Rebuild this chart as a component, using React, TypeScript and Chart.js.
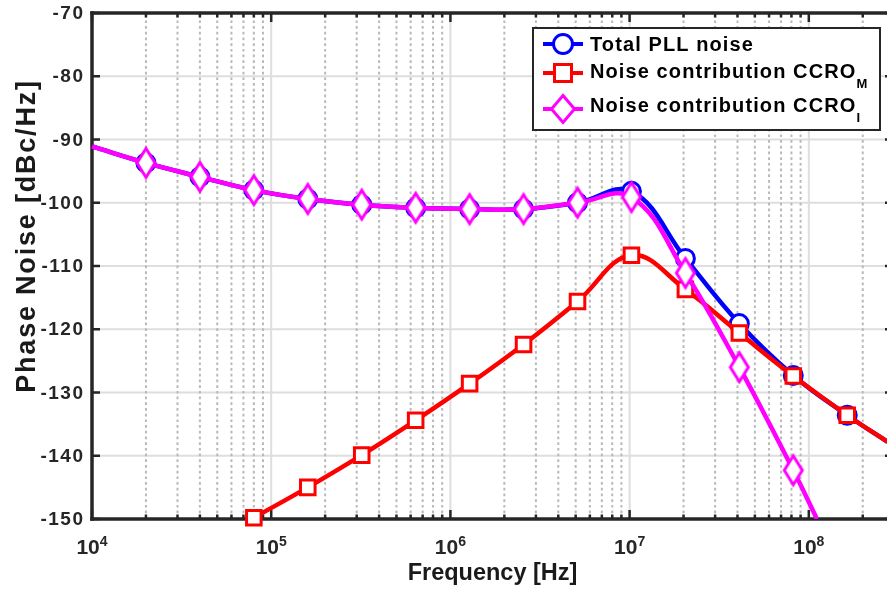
import React, { useEffect, useRef } from "react";
import { Chart, registerables } from "chart.js";

Chart.register(...registerables);

const FONT = "'Liberation Sans', Arial, Helvetica, sans-serif";
const AXIS_COLOR = "#262626";
const CANVAS_W = 900;
const CANVAS_H = 593;

// Offset frequencies (Hz) and phase noise (dBc/Hz) of the three curves
const freqTotal = [1e4, 2e4, 4e4, 8e4, 1.6e5, 3.2e5, 6.4e5, 1.28e6, 2.56e6, 5.12e6, 1.024e7, 2.048e7, 4.096e7, 8.192e7, 1.6384e8, 2.75e8];
const totalPll = [-91.1, -93.7, -95.9, -98.0, -99.4, -100.3, -100.8, -101.0, -101.0, -100.0, -98.2, -108.8, -119.1, -127.3, -133.6, -137.8];

const freqCcroM = [8e4, 1.6e5, 3.2e5, 6.4e5, 1.28e6, 2.56e6, 5.12e6, 1.024e7, 2.048e7, 4.096e7, 8.192e7, 1.6384e8, 2.75e8];
const ccroM = [-149.8, -145.0, -139.9, -134.4, -128.6, -122.4, -115.6, -108.3, -113.7, -120.6, -127.4, -133.6, -137.8];

const freqCcroI = [1e4, 2e4, 4e4, 8e4, 1.6e5, 3.2e5, 6.4e5, 1.28e6, 2.56e6, 5.12e6, 1.024e7, 2.048e7, 4.096e7, 8.192e7, 1.11e8];
const ccroI = [-91.1, -93.7, -95.9, -98.0, -99.4, -100.3, -100.8, -101.0, -101.0, -100.0, -99.1, -111.1, -126.0, -142.3, -150.0];

// Axes
const yTicks = [-150, -140, -130, -120, -110, -100, -90, -80, -70];
const xDecades = [4, 5, 6, 7, 8];
const X_MIN = 1e4;
const X_MAX = 2.95e8;
const Y_MIN = -150;
const Y_MAX = -70;

const xTitle = "Frequency [Hz]";
const yTitle = "Phase Noise [dBc/Hz]";

// Legend entries: name + subscript
const legendNames = ["Total PLL noise", "Noise contribution CCRO", "Noise contribution CCRO"];
const legendSubs = ["", "M", "I"];
const seriesColors = ["#0000ff", "#ff0000", "#ff00ff"];
const seriesMarkers = ["circle", "rect", "diamond"];

function pts(xs: number[], ys: number[]) {
  return xs.map((x, i) => ({ x, y: ys[i] }));
}

// marker radius per point; 0 hides the marker on the curve end points
function radii(n: number, r: number, hideFirst: boolean, hideLast: boolean) {
  return Array.from({ length: n }, (_, i) =>
    (hideFirst && i === 0) || (hideLast && i === n - 1) ? 0 : r
  );
}

function seg(ctx: CanvasRenderingContext2D, x1: number, y1: number, x2: number, y2: number) {
  ctx.beginPath();
  ctx.moveTo(x1, y1);
  ctx.lineTo(x2, y2);
  ctx.stroke();
}

function diamondPath(ctx: CanvasRenderingContext2D, x: number, y: number, hw: number, hh: number) {
  ctx.beginPath();
  ctx.moveTo(x, y - hh);
  ctx.lineTo(x + hw, y);
  ctx.lineTo(x, y + hh);
  ctx.lineTo(x - hw, y);
  ctx.closePath();
}

// tall diamond marker used as a point style image
function makeDiamond(color: string, hw: number, hh: number, lw: number) {
  const c = document.createElement("canvas");
  c.width = Math.ceil(2 * hw + 2 * lw + 2);
  c.height = Math.ceil(2 * hh + 2 * lw + 2);
  const g = c.getContext("2d")!;
  diamondPath(g, c.width / 2, c.height / 2, hw, hh);
  g.fillStyle = "#ffffff";
  g.fill();
  g.lineWidth = lw;
  g.strokeStyle = color;
  g.lineJoin = "miter";
  g.stroke();
  return c;
}

// Grid, box and inward ticks, drawn under the curves
const framePlugin = {
  id: "frame",
  beforeDatasetsDraw(chart: any) {
    const { ctx, chartArea: a, scales } = chart;
    const xs = scales.x;
    const ys = scales.y;
    ctx.save();
    ctx.lineCap = "butt";

    // horizontal major grid
    ctx.strokeStyle = "#dedede";
    ctx.lineWidth = 2;
    for (const v of yTicks) {
      const py = ys.getPixelForValue(v);
      seg(ctx, a.left, py, a.right, py);
    }
    // vertical minor grid (dotted)
    ctx.strokeStyle = "#b9b9b9";
    ctx.setLineDash([2.7, 3]);
    for (const d of xDecades) {
      for (let m = 2; m <= 9; m++) {
        const v = m * Math.pow(10, d);
        if (v >= X_MAX) continue;
        const px = xs.getPixelForValue(v);
        seg(ctx, px, a.bottom, px, a.top);
      }
    }
    ctx.setLineDash([]);
    // vertical major grid
    ctx.strokeStyle = "#dedede";
    for (const d of xDecades) {
      const v = Math.pow(10, d);
      if (v <= X_MIN) continue;
      const px = xs.getPixelForValue(v);
      seg(ctx, px, a.top, px, a.bottom);
    }

    // ticks (inward)
    ctx.strokeStyle = AXIS_COLOR;
    ctx.lineWidth = 2.5;
    for (const v of yTicks) {
      const py = ys.getPixelForValue(v);
      seg(ctx, a.left, py, a.left + 8, py);
      seg(ctx, a.right, py, a.right - 8, py);
    }
    for (const d of xDecades) {
      for (let m = 1; m <= 9; m++) {
        const v = m * Math.pow(10, d);
        if (v > X_MAX) continue;
        const px = xs.getPixelForValue(v);
        const len = m === 1 ? 9 : 4.5;
        seg(ctx, px, a.bottom, px, a.bottom - len);
        seg(ctx, px, a.top, px, a.top + len);
      }
    }

    // axes box
    ctx.lineWidth = 3.5;
    ctx.lineCap = "square";
    seg(ctx, a.left, a.top, a.left, a.bottom);
    seg(ctx, a.left, a.bottom, a.right, a.bottom);
    seg(ctx, a.left, a.top, a.right, a.top);
    seg(ctx, a.right, a.top, a.right, a.bottom);
    ctx.restore();
  },
};

function drawLegendMarker(ctx: CanvasRenderingContext2D, style: string, x: number, y: number, color: string) {
  ctx.save();
  ctx.fillStyle = "#ffffff";
  ctx.strokeStyle = color;
  ctx.lineWidth = 3;
  if (style === "circle") {
    ctx.beginPath();
    ctx.arc(x, y, 9.5, 0, Math.PI * 2);
  } else if (style === "rect") {
    ctx.beginPath();
    ctx.rect(x - 8.5, y - 8.5, 17, 17);
  } else {
    diamondPath(ctx, x, y, 11.5, 13.5);
  }
  ctx.fill();
  ctx.stroke();
  ctx.restore();
}

// Tick labels, axis titles and legend
const textPlugin = {
  id: "texts",
  afterDraw(chart: any) {
    const { ctx, chartArea: a, scales } = chart;
    const xs = scales.x;
    const ys = scales.y;
    ctx.save();

    // y tick labels
    ctx.fillStyle = AXIS_COLOR;
    ctx.font = `bold 19px ${FONT}`;
    (ctx as any).letterSpacing = "1.5px";
    ctx.textAlign = "right";
    ctx.textBaseline = "middle";
    for (const v of yTicks) {
      ctx.fillText(String(v), a.left - 7.5, ys.getPixelForValue(v) + 1);
    }

    // x tick labels: 10^n
    (ctx as any).letterSpacing = "0px";
    ctx.textAlign = "left";
    ctx.textBaseline = "alphabetic";
    for (const d of xDecades) {
      const px = xs.getPixelForValue(Math.pow(10, d));
      ctx.font = `bold 21px ${FONT}`;
      const wBase = ctx.measureText("10").width;
      ctx.font = `bold 14px ${FONT}`;
      const wExp = ctx.measureText(String(d)).width;
      const x0 = px - (wBase + wExp) / 2;
      ctx.font = `bold 21px ${FONT}`;
      ctx.fillText("10", x0, 554);
      ctx.font = `bold 14px ${FONT}`;
      ctx.fillText(String(d), x0 + wBase, 546);
    }

    // axis titles
    ctx.fillStyle = "#1a1a1a";
    ctx.font = `bold 23.5px ${FONT}`;
    ctx.textAlign = "center";
    ctx.fillText(xTitle, (a.left + a.right) / 2, 580);

    ctx.save();
    ctx.translate(35, 236);
    ctx.rotate(-Math.PI / 2);
    ctx.font = `bold 27px ${FONT}`;
    (ctx as any).letterSpacing = "1.8px";
    ctx.fillText(yTitle, 0, 0);
    ctx.restore();

    // legend
    ctx.fillStyle = "#ffffff";
    ctx.fillRect(533, 28, 347, 102);
    ctx.strokeStyle = AXIS_COLOR;
    ctx.lineWidth = 2;
    ctx.strokeRect(533, 28, 347, 102);

    const rowLine = [44, 73, 109];
    const rowBase = [50.7, 77.5, 112];
    for (let i = 0; i < legendNames.length; i++) {
      ctx.strokeStyle = seriesColors[i];
      ctx.lineWidth = 4;
      seg(ctx, 543, rowLine[i], 583, rowLine[i]);
      drawLegendMarker(ctx, seriesMarkers[i], 563, rowLine[i], seriesColors[i]);

      ctx.fillStyle = "#000000";
      ctx.textAlign = "left";
      ctx.font = `bold 20px ${FONT}`;
      (ctx as any).letterSpacing = "1.1px";
      ctx.fillText(legendNames[i], 590, rowBase[i]);
      if (legendSubs[i]) {
        const w = ctx.measureText(legendNames[i]).width;
        ctx.font = `bold 13px ${FONT}`;
        (ctx as any).letterSpacing = "0px";
        ctx.fillText(legendSubs[i], 590 + w, rowBase[i] + 10);
      }
    }
    ctx.restore();
  },
};

export default function App() {
  const canvasRef = useRef<HTMLCanvasElement>(null);

  useEffect(() => {
    document.body.style.margin = "0";
    document.body.style.overflow = "hidden";
    document.documentElement.style.overflow = "hidden";

    const canvas = canvasRef.current;
    if (!canvas) return;

    const common = {
      borderWidth: 4.5,
      tension: 0.4,
      pointBackgroundColor: "#ffffff",
      pointBorderWidth: 3,
      pointHoverRadius: 0,
      fill: false,
    };

    const diamond = makeDiamond(seriesColors[2], 9, 14.5, 3);

    const chart = new Chart(canvas, {
      type: "line",
      data: {
        datasets: [
          {
            ...common,
            label: legendNames[0],
            data: pts(freqTotal, totalPll),
            borderColor: seriesColors[0],
            pointBorderColor: seriesColors[0],
            pointStyle: "circle",
            pointRadius: radii(freqTotal.length, 9, true, true),
            order: 3,
            clip: false,
          },
          {
            ...common,
            label: legendNames[1] + legendSubs[1],
            data: pts(freqCcroM, ccroM),
            borderColor: seriesColors[1],
            pointBorderColor: seriesColors[1],
            pointStyle: "rect",
            pointRadius: radii(freqCcroM.length, 10.3, false, true),
            order: 2,
            clip: false,
          },
          {
            ...common,
            label: legendNames[2] + legendSubs[2],
            data: pts(freqCcroI, ccroI),
            borderColor: seriesColors[2],
            pointBorderColor: seriesColors[2],
            pointStyle: radii(freqCcroI.length, 1, true, true).map((r) => (r ? diamond : false)),
            pointRadius: radii(freqCcroI.length, 10, true, true),
            order: 1,
            clip: { left: 6, top: 6, right: 6, bottom: 0 },
          },
        ] as any,
      },
      options: {
        animation: false,
        responsive: false,
        maintainAspectRatio: false,
        devicePixelRatio: 1,
        layout: { autoPadding: false, padding: { top: 13, right: 7, bottom: 0, left: 0 } },
        plugins: {
          legend: { display: false },
          tooltip: { enabled: false },
        },
        events: [],
        scales: {
          x: {
            type: "logarithmic",
            min: X_MIN,
            max: X_MAX,
            grid: { display: false, drawTicks: false },
            border: { display: false },
            ticks: { display: false },
            afterFit: (s: any) => {
              s.height = 74;
            },
          },
          y: {
            type: "linear",
            min: Y_MIN,
            max: Y_MAX,
            grid: { display: false, drawTicks: false },
            border: { display: false },
            ticks: { display: false },
            afterFit: (s: any) => {
              s.width = 92;
            },
          },
        },
      } as any,
      plugins: [framePlugin, textPlugin],
    });

    return () => chart.destroy();
  }, []);

  return (
    <div
      style={{
        position: "fixed",
        left: 0,
        top: 0,
        width: CANVAS_W,
        height: CANVAS_H,
        background: "#ffffff",
      }}
    >
      <canvas
        ref={canvasRef}
        width={CANVAS_W}
        height={CANVAS_H}
        style={{ display: "block", width: CANVAS_W, height: CANVAS_H }}
      />
    </div>
  );
}
